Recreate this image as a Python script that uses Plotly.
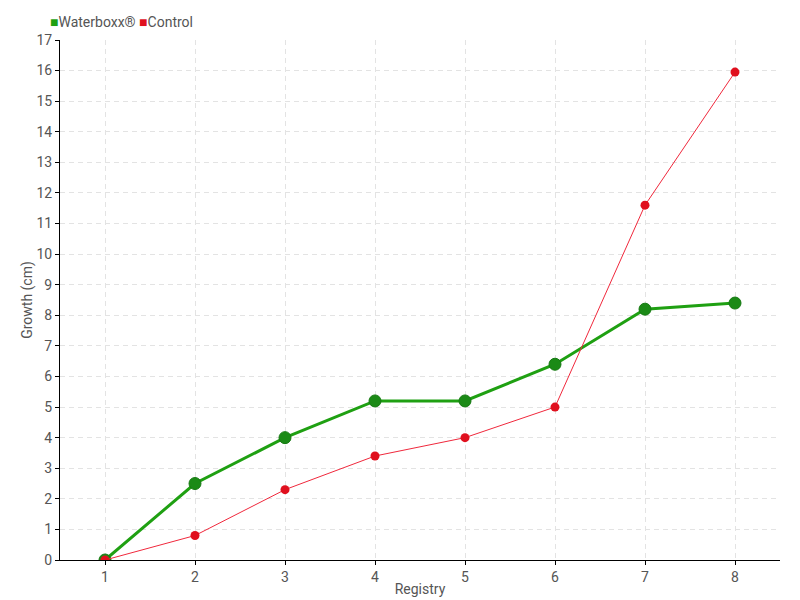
import plotly.graph_objects as go

registry = [1, 2, 3, 4, 5, 6, 7, 8]
waterboxx = [0, 2.5, 4.0, 5.2, 5.2, 6.4, 8.2, 8.4]
control = [0, 0.8, 2.3, 3.4, 4.0, 5.0, 11.6, 15.95]

green = '#1fa012'
green_dark = '#1b8a16'
red = '#f0283c'
red_dark = '#e0101e'
font_family = 'Roboto, sans-serif'
text_color = '#555555'

fig = go.Figure()

fig.add_trace(go.Scatter(
    x=registry, y=waterboxx, mode='lines+markers', name='Waterboxx®', showlegend=False,
    line=dict(color=green, width=3),
    marker=dict(size=12, color=green_dark, line=dict(color='#167a12', width=1)),
))
fig.add_trace(go.Scatter(
    x=registry, y=control, mode='lines+markers', name='Control', showlegend=False,
    line=dict(color=red, width=1),
    marker=dict(size=9, color=red_dark),
))

# Legend drawn as text with coloured squares (tighter than plotly's legend)
fig.add_annotation(
    xref='paper', yref='paper', x=-0.017, y=1.0, yshift=18,
    xanchor='left', yanchor='middle', showarrow=False,
    text=(f'<span style="color:{green}">■</span>Waterboxx® '
          f'<span style="color:{red_dark}">■</span>Control'),
    font=dict(size=14, color=text_color),
)

axis_common = dict(
    showgrid=True, gridcolor='#e3e3e3', griddash='5px,4px', gridwidth=1,
    showline=True, linecolor='black', linewidth=1,
    ticks='outside', ticklen=4, tickcolor='black',
    zeroline=False, automargin=False,
    tickfont=dict(size=14, color=text_color),
)

# page body adds an 8px offset, so margins are reduced accordingly
fig.update_layout(
    xaxis=dict(title=dict(text='Registry', font=dict(size=14, color=text_color), standoff=0),
               range=[0.5, 8.5], dtick=1, **axis_common),
    yaxis=dict(title=dict(text='Growth (cm)', font=dict(size=14, color=text_color), standoff=0),
               range=[0, 17], dtick=1, **axis_common),
    font=dict(family=font_family, size=14, color=text_color),
    plot_bgcolor='white',
    paper_bgcolor='white',
    width=792, height=592,
    margin=dict(l=52, r=20, t=32, b=40, autoexpand=False),
)

fig.write_html('out.html')
